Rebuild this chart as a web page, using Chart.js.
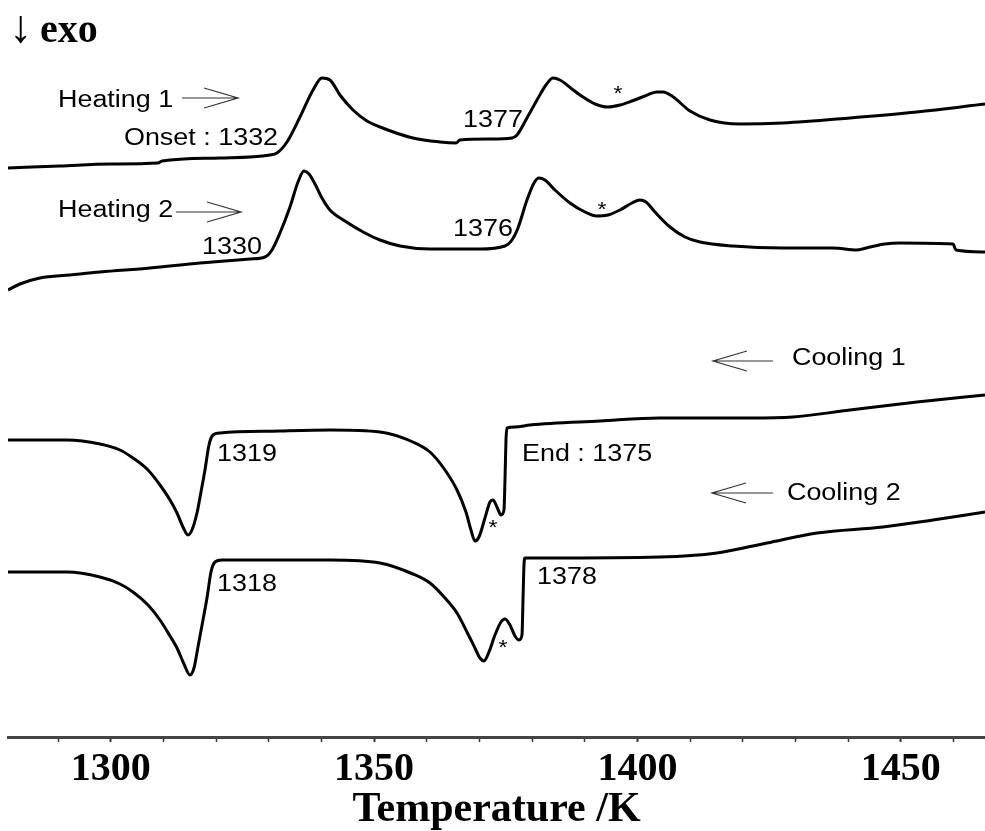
<!DOCTYPE html>
<html>
<head>
<meta charset="utf-8">
<script src="https://cdn.jsdelivr.net/npm/chart.js@4.4.0/dist/chart.umd.min.js"></script>
<style>
body { margin: 0; background: #fff; }
canvas { display: block; }
</style>
</head>
<body>
<canvas id="dscChart" width="985" height="831"></canvas>
<script>
// DSC traces, temperature in K and heat flow in arbitrary units (exo down)
const tHeat1 = [1280.5, 1290.37, 1299.86, 1308.98, 1309.74, 1320.75, 1330.24, 1331.57, 1333.47, 1335.94, 1338.41, 1340.11, 1341.63, 1343.53, 1346.0, 1348.66, 1351.13, 1357.39, 1362.52, 1365.56, 1366.32, 1372.01, 1376.19, 1377.14, 1379.04, 1380.94, 1382.64, 1383.97, 1385.3, 1387.58, 1389.67, 1391.95, 1394.42, 1396.69, 1398.97, 1401.44, 1403.72, 1404.86, 1406.57, 1409.98, 1413.78, 1419.48, 1427.64, 1440.36, 1453.08, 1466.0];
const qHeat1 = [56.9, 57.1, 57.3, 57.4, 57.6, 57.9, 58.2, 58.4, 59.5, 62.0, 64.7, 65.9, 65.7, 64.2, 62.7, 61.6, 61.0, 59.9, 59.5, 59.4, 59.7, 59.8, 59.9, 60.2, 61.9, 63.7, 65.2, 65.9, 65.7, 64.8, 64.0, 63.3, 63.0, 63.2, 63.6, 64.1, 64.5, 64.5, 64.1, 62.6, 61.7, 61.3, 61.4, 61.9, 62.5, 63.3];

const tHeat2 = [1280.5, 1282.78, 1286.57, 1292.27, 1297.97, 1307.46, 1316.95, 1326.45, 1329.29, 1330.62, 1332.14, 1334.04, 1335.56, 1336.7, 1337.65, 1338.79, 1340.11, 1341.63, 1344.48, 1348.28, 1351.13, 1354.92, 1360.62, 1370.11, 1374.86, 1376.19, 1377.33, 1379.04, 1380.37, 1381.31, 1382.45, 1384.35, 1387.2, 1390.05, 1392.33, 1394.42, 1396.69, 1398.97, 1400.49, 1401.63, 1403.34, 1406.19, 1409.04, 1411.88, 1418.15, 1427.64, 1437.13, 1441.69, 1444.16, 1447.01, 1449.85, 1459.92, 1460.49, 1466.0];
const qHeat2 = [44.7, 45.3, 45.9, 46.2, 46.5, 46.9, 47.4, 47.8, 48.0, 48.7, 50.4, 53.0, 55.5, 56.6, 56.3, 55.3, 53.9, 52.7, 51.6, 50.4, 49.7, 49.1, 48.8, 48.8, 49.1, 49.7, 50.9, 53.7, 55.4, 55.9, 55.7, 54.7, 53.4, 52.5, 52.1, 52.2, 52.7, 53.4, 53.7, 53.5, 52.5, 51.0, 50.0, 49.5, 49.1, 48.9, 48.9, 48.7, 49.0, 49.3, 49.4, 49.3, 48.7, 48.5];

const tCool1 = [1280.5, 1291.7, 1297.97, 1301.76, 1304.23, 1307.08, 1309.36, 1311.26, 1312.59, 1313.72, 1314.67, 1315.43, 1316.38, 1317.14, 1317.9, 1318.66, 1319.42, 1320.75, 1332.14, 1341.63, 1351.13, 1357.39, 1360.62, 1363.47, 1365.75, 1367.45, 1368.4, 1369.16, 1369.92, 1371.06, 1372.01, 1372.58, 1373.34, 1374.1, 1374.67, 1374.86, 1375.05, 1375.24, 1376.76, 1379.61, 1392.9, 1404.29, 1421.38, 1429.54, 1440.36, 1453.08, 1466.0];
const qCool1 = [29.7, 29.7, 29.3, 28.7, 27.9, 26.7, 25.2, 23.7, 22.4, 21.0, 20.2, 20.7, 22.4, 24.5, 26.7, 29.2, 30.2, 30.4, 30.6, 30.7, 30.5, 29.5, 28.5, 26.7, 24.7, 22.5, 20.7, 19.6, 20.0, 21.9, 23.5, 23.7, 23.0, 22.2, 22.7, 25.7, 29.7, 30.9, 31.0, 31.2, 31.6, 31.9, 31.9, 32.0, 32.7, 33.5, 34.2];

const tCool2 = [1280.5, 1291.7, 1297.97, 1301.76, 1304.23, 1307.08, 1309.36, 1311.26, 1312.59, 1313.91, 1315.05, 1315.81, 1316.57, 1317.52, 1318.28, 1319.04, 1319.8, 1321.13, 1341.63, 1351.13, 1357.39, 1360.62, 1363.47, 1365.75, 1367.64, 1369.16, 1370.11, 1370.87, 1371.82, 1372.96, 1374.1, 1374.86, 1375.81, 1376.76, 1377.52, 1378.09, 1378.28, 1378.47, 1378.66, 1382.83, 1404.29, 1415.11, 1424.6, 1434.1, 1446.63, 1456.12, 1466.0];
const qCool2 = [16.5, 16.5, 16.0, 15.3, 14.5, 13.2, 11.7, 10.1, 8.9, 7.3, 6.2, 6.9, 9.0, 11.7, 13.9, 16.5, 17.5, 17.7, 17.7, 17.4, 16.3, 15.4, 13.9, 12.4, 10.5, 8.9, 7.9, 7.6, 8.5, 10.2, 11.5, 11.8, 11.2, 10.1, 9.7, 10.2, 13.7, 17.2, 17.9, 17.9, 18.0, 18.4, 19.4, 20.4, 21.0, 21.7, 22.5];

// axis
const tMin = 1280.5, tMax = 1466.0;
const qMin = 0, qMax = 73.7;
const majorStep = 50, minorStep = 10;

// annotations: text, temperature, heat flow (vertical centre)
const noteText = ["Heating 1", "Onset : 1332", "Heating 2", "1330", "1377", "*", "1376", "*", "Cooling 1", "Cooling 2", "1319", "1318", "End : 1375", "*", "1378", "*"];
const noteT = [1289.99, 1302.52, 1289.99, 1317.33, 1366.89, 1396.31, 1364.99, 1393.28, 1429.35, 1428.40, 1320.18, 1320.18, 1378.09, 1372.58, 1380.94, 1374.48];
const noteQ = [63.7, 60.1, 52.7, 49.2, 61.9, 64.7, 51.0, 53.1, 37.9, 24.4, 28.5, 15.5, 28.5, 21.3, 16.2, 9.3];

// direction arrows: tail temperature, head temperature, heat flow
const arrowFrom = [1313.53, 1312.40, 1425.74, 1425.74];
const arrowTo = [1324.17, 1324.74, 1414.35, 1414.16];
const arrowQ = [63.9, 52.5, 37.6, 24.4];

function pts(ts, qs) {
    return ts.map((t, i) => ({ x: t, y: qs[i] }));
}

function line(label, ts, qs) {
    return {
        label: label,
        data: pts(ts, qs),
        borderColor: "#000",
        borderWidth: 3,
        pointRadius: 0,
        fill: false,
        cubicInterpolationMode: "monotone"
    };
}

function drawStretched(ctx, text, x, y, font, sx, center) {
    ctx.font = font;
    let m = ctx.measureText(text);
    let x0 = center ? x - m.width * sx / 2 : x;
    let yb = y + (m.actualBoundingBoxAscent - m.actualBoundingBoxDescent) / 2;
    ctx.save();
    ctx.translate(x0, yb);
    ctx.scale(sx, 1);
    ctx.textBaseline = "alphabetic";
    ctx.textAlign = "left";
    ctx.fillText(text, 0, 0);
    ctx.restore();
}

const notesPlugin = {
    id: "dscNotes",
    afterDatasetsDraw(chart) {
        let ctx = chart.ctx;
        let xs = chart.scales.x, ys = chart.scales.y;
        ctx.save();
        ctx.fillStyle = "#000";
        noteText.forEach((txt, i) => {
            let px = xs.getPixelForValue(noteT[i]);
            let py = ys.getPixelForValue(noteQ[i]);
            if (txt === "*") {
                drawStretched(ctx, txt, px, py, '21px "Liberation Sans", Arial, sans-serif', 1.1, true);
            } else {
                drawStretched(ctx, txt, px, py, '23px "Liberation Sans", Arial, sans-serif', 1.17, false);
            }
        });

        // open arrows
        ctx.strokeStyle = "#333";
        ctx.lineWidth = 1.2;
        arrowFrom.forEach((t0, i) => {
            let x0 = xs.getPixelForValue(t0);
            let x1 = xs.getPixelForValue(arrowTo[i]);
            let y = ys.getPixelForValue(arrowQ[i]);
            let dir = x1 > x0 ? -1 : 1;
            ctx.beginPath();
            ctx.moveTo(x0, y);
            ctx.lineTo(x1, y);
            ctx.moveTo(x1 + dir * 34, y - 10);
            ctx.lineTo(x1, y);
            ctx.lineTo(x1 + dir * 34, y + 10);
            ctx.stroke();
        });

        // "↓ exo" in the top left corner
        let ex = xs.getPixelForValue(tMin) + 1;
        let ey = ys.getPixelForValue(qMax) + 30;
        ctx.fillStyle = "#000";
        ctx.textBaseline = "middle";
        ctx.textAlign = "left";
        ctx.font = '46px "Liberation Serif", "DejaVu Serif", serif';
        ctx.fillText("↓", ex, ey);
        ctx.font = 'bold 40px "Liberation Serif", "DejaVu Serif", serif';
        ctx.fillText("exo", ex + 31, ey + 2);
        ctx.restore();
    }
};

document.addEventListener("DOMContentLoaded", () => {
    let ctx = document.getElementById("dscChart").getContext("2d");
    new Chart(ctx, {
        type: "line",
        data: {
            datasets: [
                line("Heating 1", tHeat1, qHeat1),
                line("Heating 2", tHeat2, qHeat2),
                line("Cooling 1", tCool1, qCool1),
                line("Cooling 2", tCool2, qCool2)
            ]
        },
        options: {
            responsive: false,
            animation: false,
            devicePixelRatio: 1,
            layout: { padding: { left: 8, right: 0, top: 0, bottom: 0 } },
            plugins: {
                legend: { display: false },
                tooltip: { enabled: false }
            },
            scales: {
                x: {
                    type: "linear",
                    min: tMin,
                    max: tMax,
                    afterFit: (scale) => { scale.height = 94; },
                    border: { display: true, color: "#444", width: 3 },
                    grid: {
                        display: true,
                        drawOnChartArea: false,
                        drawTicks: true,
                        tickLength: 5,
                        tickColor: "#333",
                        tickWidth: (c) => (c.tick && c.tick.value % majorStep === 0 ? 2 : 1.5)
                    },
                    ticks: {
                        stepSize: minorStep,
                        includeBounds: false,
                        autoSkip: false,
                        maxRotation: 0,
                        padding: 4,
                        color: "#000",
                        font: { family: '"Liberation Serif", "Times New Roman", serif', size: 40, weight: "bold" },
                        callback: (v) => (v % majorStep === 0 ? String(v) : "")
                    },
                    title: {
                        display: true,
                        text: "Temperature /K",
                        color: "#000",
                        padding: { top: 0, bottom: -4 },
                        font: { family: '"Liberation Serif", "Times New Roman", serif', size: 42, weight: "bold" }
                    }
                },
                y: {
                    type: "linear",
                    display: false,
                    min: qMin,
                    max: qMax
                }
            }
        },
        plugins: [notesPlugin]
    });
});
</script>
</body>
</html>
